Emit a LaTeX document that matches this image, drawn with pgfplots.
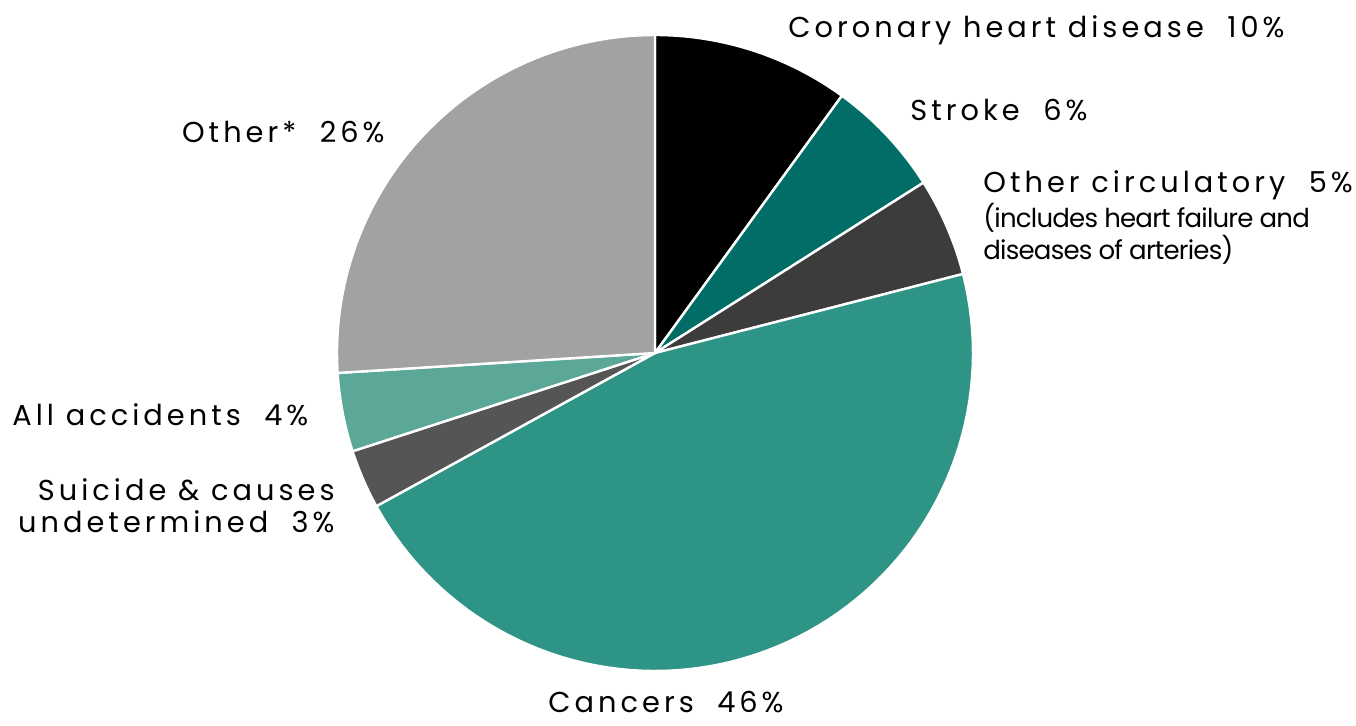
\documentclass[border=0pt]{standalone}
\usepackage{pgfplots}
\pgfplotsset{compat=1.18}
\usepackage{fontspec}
\setmainfont{Poppins}[LetterSpace=14]
\newfontfamily\notefont{Poppins}[LetterSpace=-3]
\definecolor{cgray}{HTML}{A2A2A2}
\definecolor{cteal}{HTML}{006E66}
\definecolor{cdark}{HTML}{3C3C3C}
\definecolor{ccanc}{HTML}{2E9486}
\definecolor{csuic}{HTML}{555555}
\definecolor{cacc}{HTML}{5CA898}
% slice: start (cumulative %), size (%), colour; clockwise from 12 o'clock
\newcommand{\slice}[3]{%
  \addplot[fill=#3, draw=white, line width=1.2pt, domain={90-3.6*(#1+#2)}:{90-3.6*#1}, samples=80]
    ({655+318*cos(x)},{372+318*sin(x)}) -- (axis cs:655,372) -- cycle;
}
\begin{document}
\begin{tikzpicture}[font=\fontsize{14.4}{17}\selectfont]
\begin{axis}[
  x=0.5pt, y=0.5pt,
  xmin=0, xmax=1356, ymin=0, ymax=725,
  hide axis, clip=false,
]
\slice{0}{10}{black}
\slice{10}{6}{cteal}
\slice{16}{5}{cdark}
\slice{21}{46}{ccanc}
\slice{67}{3}{csuic}
\slice{70}{4}{cacc}
\slice{74}{26}{cgray}
\path (axis cs:0,0) rectangle (axis cs:1356,725);
\node[anchor=west, inner sep=0] at (axis cs:788,695) {Coronary heart disease\ \ 10\%};
\node[anchor=west, inner sep=0] at (axis cs:910,615) {Stroke\ \ 6\%};
\node[anchor=west, inner sep=0] at (axis cs:983,540) {Other circulatory\ \ 5\%};
\node[anchor=west, inner sep=0, font=\notefont\fontsize{13}{15}\selectfont] at (axis cs:983,507) {(includes heart failure and};
\node[anchor=west, inner sep=0, font=\notefont\fontsize{13}{15}\selectfont] at (axis cs:983,475) {diseases of arteries)};
\node[anchor=east, inner sep=0] at (axis cs:385,593) {Other*\ \ 26\%};
\node[anchor=west, inner sep=0] at (axis cs:12,310) {All accidents\ \ 4\%};
\node[anchor=east, inner sep=0] at (axis cs:335,235) {Suicide \& causes};
\node[anchor=east, inner sep=0] at (axis cs:335,203) {undetermined\ \ 3\%};
\node[anchor=center, inner sep=0] at (axis cs:666,23) {Cancers\ \ 46\%};
\end{axis}
\end{tikzpicture}
\end{document}
